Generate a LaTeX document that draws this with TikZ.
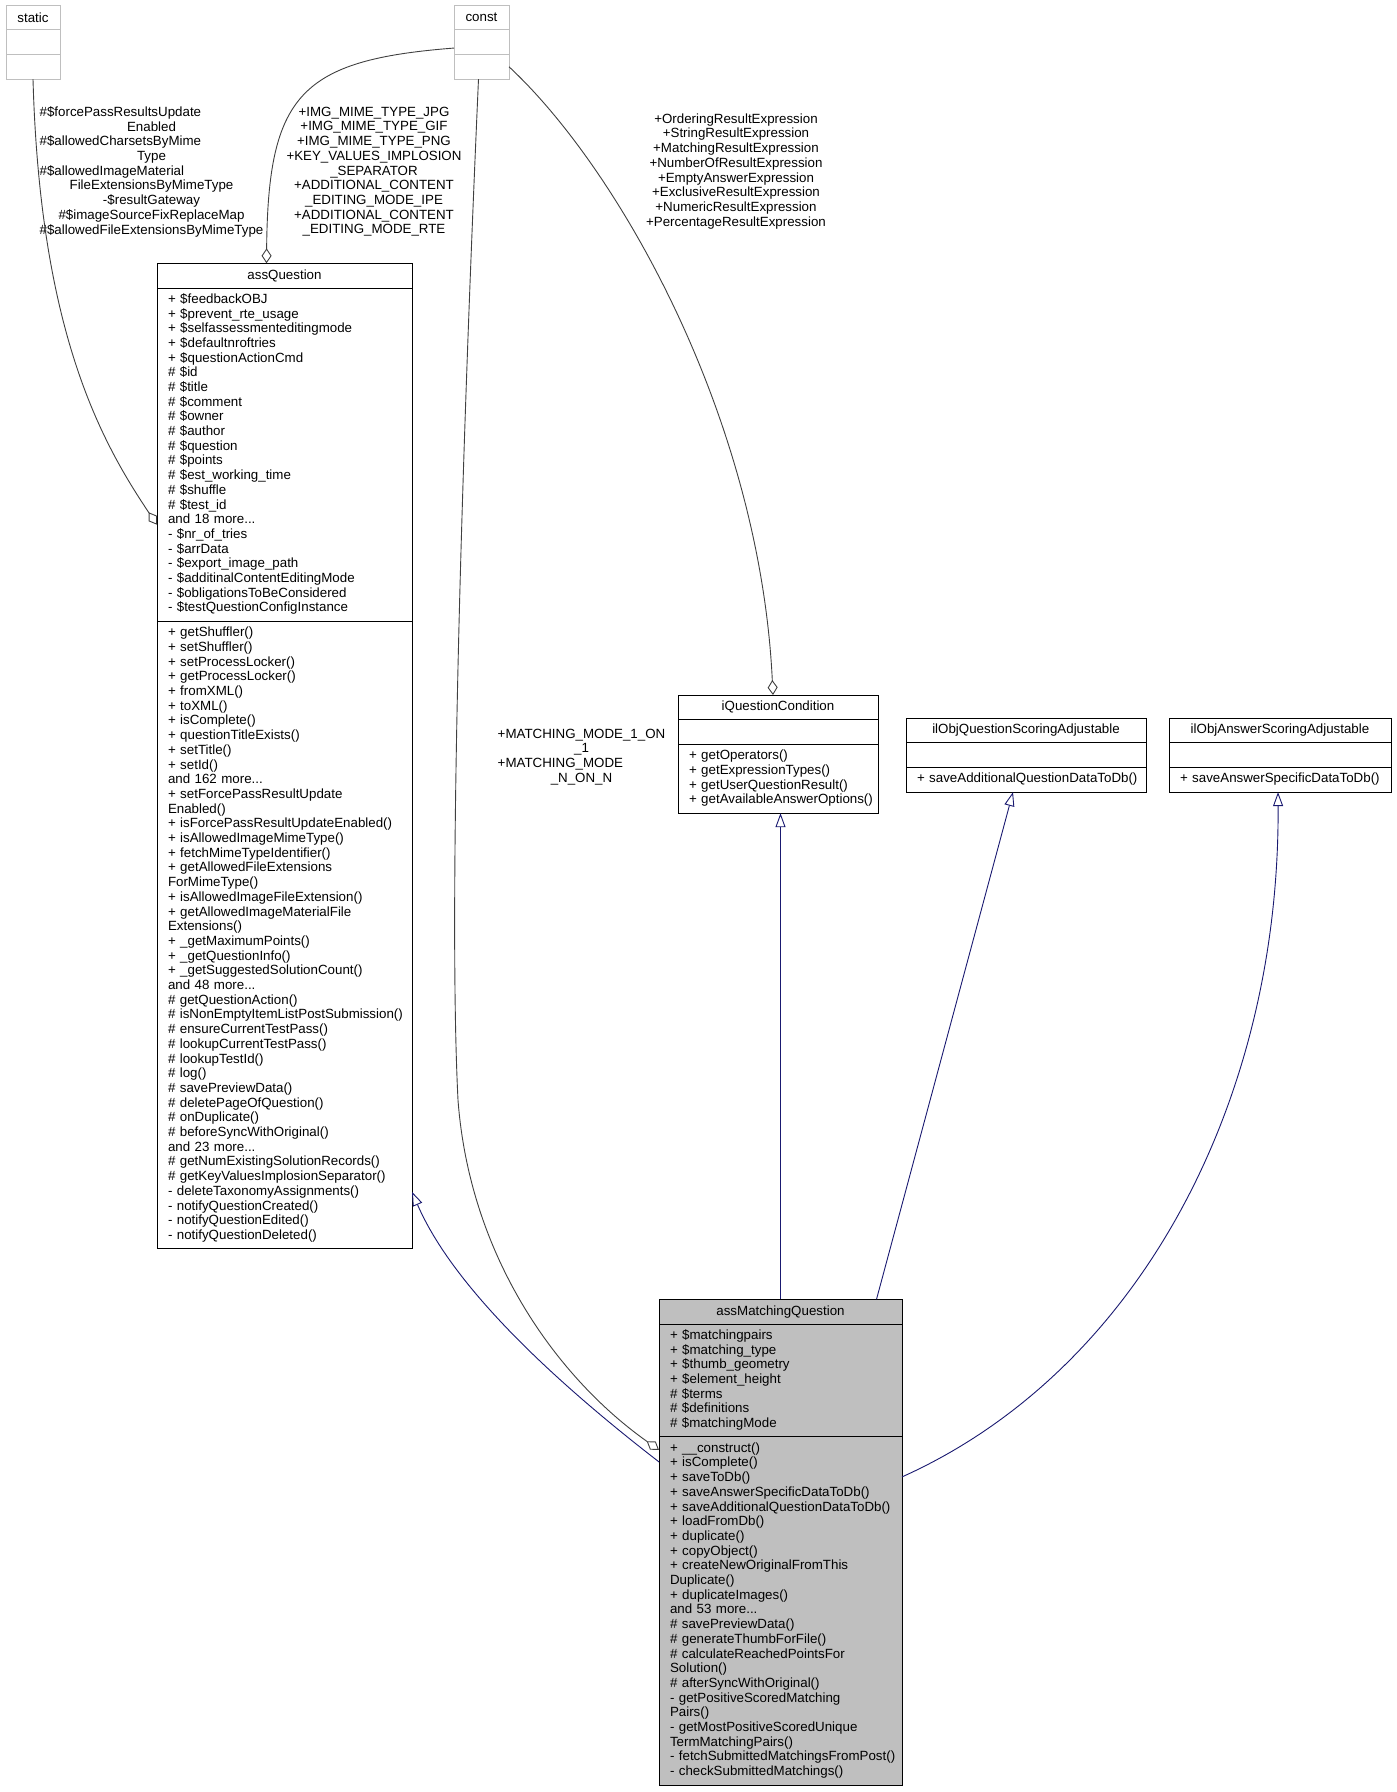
\documentclass[tikz,border=0pt]{standalone}
\usepackage{fontspec}
\setmainfont{Liberation Sans}
\usepackage{calc}
\usetikzlibrary{arrows.meta,positioning}
\definecolor{edgegray}{HTML}{404040}
\definecolor{edgenavy}{HTML}{191970}
\definecolor{boxgray}{HTML}{BFBFBF}
\newcommand{\umlfont}{\fontsize{13.33}{14.7}\selectfont}
\newcommand{\ljust}[2]{\makebox[\widthof{#1}][l]{#2}}
\newcommand{\members}[1]{\noindent\begin{tabular}{@{}l@{}}#1\end{tabular}}
\tikzset{
every node/.style={inner sep=0pt, outer sep=0pt, font=\umlfont},
clshead/.style={draw, line width=0.9pt, minimum height=24.7pt, align=center},
clsbody/.style 2 args={draw, line width=0.9pt, minimum height={#1*14.7pt+10pt}, inner xsep=11pt, text width=#2},
ghost/.style={draw=boxgray},
focus/.style={fill=boxgray},
aggr/.style={draw=edgegray, line width=0.9pt, -{Diamond[open, length=15pt, width=10pt]}},
inherit/.style={draw=edgenavy, line width=0.9pt, -{Triangle[open, length=14pt, width=10pt]}},
edgelabel/.style={align=center}
}

\begin{document}
\begin{tikzpicture}[x=1pt, y=-1pt]
\useasboundingbox (0,0) rectangle (1397,1792);

\node [clshead, ghost, minimum width=54pt, anchor=north west] (S) at (6,5) {static};
\node [clsbody={1}{32pt}, ghost, below=0pt of S] (SA) {};
\node [clsbody={1}{32pt}, ghost, below=0pt of SA] (SO) {};

\node [clshead, ghost, minimum width=55pt, anchor=north west] (C) at (454,5) {const};
\node [clsbody={1}{33pt}, ghost, below=0pt of C] (CA) {};
\node [clsbody={1}{33pt}, ghost, below=0pt of CA] (CO) {};

\node [clshead, minimum width=255pt, anchor=north west] (AQ) at (157,263.3) {assQuestion};
\node [clsbody={22}{233pt}, below=0pt of AQ] (AQA) {\members{+ \$feedbackOBJ\\+ \$prevent\_rte\_usage\\+ \$selfassessmenteditingmode\\+ \$defaultnroftries\\+ \$questionActionCmd\\\# \$id\\\# \$title\\\# \$comment\\\# \$owner\\\# \$author\\\# \$question\\\# \$points\\\# \$est\_working\_time\\\# \$shuffle\\\# \$test\_id\\and 18 more...\\- \$nr\_of\_tries\\- \$arrData\\- \$export\_image\_path\\- \$additinalContentEditingMode\\- \$obligationsToBeConsidered\\- \$testQuestionConfigInstance}};
\node [clsbody={42}{233pt}, below=0pt of AQA] (AQM) {\members{+ getShuffler()\\+ setShuffler()\\+ setProcessLocker()\\+ getProcessLocker()\\+ fromXML()\\+ toXML()\\+ isComplete()\\+ questionTitleExists()\\+ setTitle()\\+ setId()\\and 162 more...\\+ setForcePassResultUpdate\\Enabled()\\+ isForcePassResultUpdateEnabled()\\+ isAllowedImageMimeType()\\+ fetchMimeTypeIdentifier()\\+ getAllowedFileExtensions\\ForMimeType()\\+ isAllowedImageFileExtension()\\+ getAllowedImageMaterialFile\\Extensions()\\+ \_getMaximumPoints()\\+ \_getQuestionInfo()\\+ \_getSuggestedSolutionCount()\\and 48 more...\\\# getQuestionAction()\\\# isNonEmptyItemListPostSubmission()\\\# ensureCurrentTestPass()\\\# lookupCurrentTestPass()\\\# lookupTestId()\\\# log()\\\# savePreviewData()\\\# deletePageOfQuestion()\\\# onDuplicate()\\\# beforeSyncWithOriginal()\\and 23 more...\\\# getNumExistingSolutionRecords()\\\# getKeyValuesImplosionSeparator()\\- deleteTaxonomyAssignments()\\- notifyQuestionCreated()\\- notifyQuestionEdited()\\- notifyQuestionDeleted()}};

\node [clshead, minimum width=200pt, anchor=north west] (IQ) at (678,695) {iQuestionCondition};
\node [clsbody={1}{178pt}, below=0pt of IQ] (IQA) {};
\node [clsbody={4}{178pt}, below=0pt of IQA] (IQO) {\members{+ getOperators()\\+ getExpressionTypes()\\+ getUserQuestionResult()\\+ getAvailableAnswerOptions()}};

\node [clshead, minimum width=240pt, anchor=north west] (QS) at (906,718) {ilObjQuestionScoringAdjustable};
\node [clsbody={1}{218pt}, below=0pt of QS] (QSA) {};
\node [clsbody={1}{218pt}, below=0pt of QSA] (QSO) {\members{+ saveAdditionalQuestionDataToDb()}};

\node [clshead, minimum width=222pt, anchor=north west] (AS) at (1169,718) {ilObjAnswerScoringAdjustable};
\node [clsbody={1}{200pt}, below=0pt of AS] (ASA) {};
\node [clsbody={1}{200pt}, below=0pt of ASA] (ASO) {\members{+ saveAnswerSpecificDataToDb()}};

\node [clshead, focus, minimum width=243pt, anchor=north west] (MQ) at (659,1299.3) {assMatchingQuestion};
\node [clsbody={7}{221pt}, focus, below=0pt of MQ] (MQA) {\members{+ \$matchingpairs\\+ \$matching\_type\\+ \$thumb\_geometry\\+ \$element\_height\\\# \$terms\\\# \$definitions\\\# \$matchingMode}};
\node [clsbody={23}{221pt}, focus, below=0pt of MQA] (MQM) {\members{+ \_\_construct()\\+ isComplete()\\+ saveToDb()\\+ saveAnswerSpecificDataToDb()\\+ saveAdditionalQuestionDataToDb()\\+ loadFromDb()\\+ duplicate()\\+ copyObject()\\+ createNewOriginalFromThis\\Duplicate()\\+ duplicateImages()\\and 53 more...\\\# savePreviewData()\\\# generateThumbForFile()\\\# calculateReachedPointsFor\\Solution()\\\# afterSyncWithOriginal()\\- getPositiveScoredMatching\\Pairs()\\- getMostPositiveScoredUnique\\TermMatchingPairs()\\- fetchSubmittedMatchingsFromPost()\\- checkSubmittedMatchings()}};

\node [edgelabel] (SL) at (151.5,171.7) {\ljust{\#\$allowedFileExtensionsByMimeType}{\#\$forcePassResultsUpdate}\\Enabled\\\ljust{\#\$allowedFileExtensionsByMimeType}{\#\$allowedCharsetsByMime}\\Type\\\ljust{\#\$allowedFileExtensionsByMimeType}{\#\$allowedImageMaterial}\\FileExtensionsByMimeType\\-\$resultGateway\\\#\$imageSourceFixReplaceMap\\\#\$allowedFileExtensionsByMimeType};
\node [edgelabel] (CL) at (374,171.7) {+IMG\_MIME\_TYPE\_JPG\\+IMG\_MIME\_TYPE\_GIF\\+IMG\_MIME\_TYPE\_PNG\\+KEY\_VALUES\_IMPLOSION\\\_SEPARATOR\\+ADDITIONAL\_CONTENT\\\_EDITING\_MODE\_IPE\\+ADDITIONAL\_CONTENT\\\_EDITING\_MODE\_RTE};
\node [edgelabel] (EL) at (736,171.2) {+OrderingResultExpression\\+StringResultExpression\\+MatchingResultExpression\\+NumberOfResultExpression\\+EmptyAnswerExpression\\+ExclusiveResultExpression\\+NumericResultExpression\\+PercentageResultExpression};
\node [edgelabel] (ML) at (581.5,757) {+MATCHING\_MODE\_1\_ON\\\_1\\\ljust{+MATCHING\_MODE\_1\_ON}{+MATCHING\_MODE}\\\_N\_ON\_N};

\draw [aggr] (SO.south) .. controls (40,330) and (100,440) .. ([yshift=-70pt]AQA.west);
\draw [aggr] ([yshift=-6pt]CA.west) .. controls (300,60) and (268,95) .. ([xshift=-18pt]AQ.north);
\draw [aggr] (CO.east) .. controls (620,170) and (760,420) .. ([xshift=-5pt]IQ.north);
\draw [aggr] ([xshift=-3pt]CO.south) .. controls (462,450) and (448,900) .. (458,1100) .. controls (470,1260) and (560,1380) .. ([yshift=-13pt]MQM.north west);

\draw [inherit] ([yshift=-25pt]MQM.north west) .. controls (540,1370) and (450,1280) .. ([yshift=57pt]AQM.south east);
\draw [inherit] (MQ.north) -- (MQ.north |- IQO.south);
\draw [inherit] ([xshift=96pt]MQ.north) -- ([xshift=-13pt]QSO.south);
\draw [inherit] ([yshift=-40pt]MQM.north east) .. controls (1140,1370) and (1280,1100) .. ([xshift=-2pt]ASO.south);
\end{tikzpicture}
\end{document}
